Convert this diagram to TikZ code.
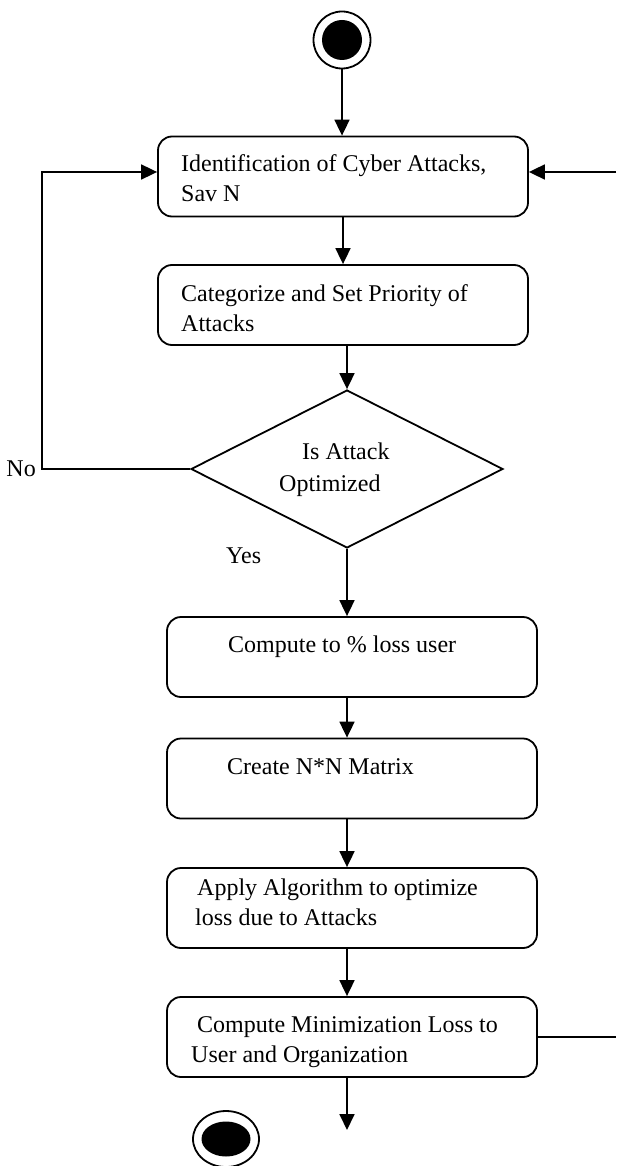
\documentclass[tikz,border=0pt]{standalone}
\usepackage{fontspec}
\setmainfont{Liberation Serif}
\usepackage{tikz}
\usetikzlibrary{arrows.meta,shapes.geometric,positioning,calc}
\tikzstyle{arrow} = [line width=1.8pt,-{Triangle[length=16pt,width=15pt]}]
\tikzstyle{line} = [line width=1.8pt]
\tikzstyle{stepbox} = [draw, line width=1.8pt, rounded corners=14pt, minimum width=370pt, minimum height=80pt, inner sep=0pt]
\tikzstyle{decision} = [draw, diamond, line width=1.8pt, minimum width=312pt, minimum height=158pt, inner sep=0pt]
\tikzstyle{txt} = [font=\fontsize{24}{30}\selectfont, inner sep=0pt, anchor=base west]

\begin{document}
\begin{tikzpicture}[x=1pt, y=-1pt]
    \useasboundingbox (0,0) rectangle (616,1166);

    % Start and end
    \node[circle, draw, line width=1.8pt, minimum size=57pt, inner sep=0pt] (start) at (342,40) {};
    \fill (start) circle (20pt);
    \node[draw, ellipse, line width=1.8pt, minimum width=66pt, minimum height=56pt, inner sep=0pt] (stop) at (226,1139) {};
    \fill (stop) ellipse (24.5pt and 17.5pt);

    % Boxes
    \node[stepbox] (ident) at (343,176.5) {};
    \node[stepbox] (categ) at (343,305) {};
    \node[decision] (optim) at (347,469) {};
    \node[stepbox] (comp) at (352,657) {};
    \node[stepbox] (matrix) at (352,778.5) {};
    \node[stepbox] (algo) at (352,908) {};
    \node[stepbox] (minim) at (352,1037) {};

    % Texts
    \node[txt] (identA) at (181,172) {Identification of Cyber Attacks,};
    \node[txt] (identB) at (181,202) {Sav N};
    \node[txt] (categA) at (181,301) {Categorize and Set Priority of};
    \node[txt] (categB) at (181,331) {Attacks};
    \node[txt] (optimA) at (302,459) {Is Attack};
    \node[txt] (optimB) at (279,491) {Optimized};
    \node[txt] (compA) at (228,652) {Compute to \% loss user};
    \node[txt] (matrixA) at (227,774) {Create N*N Matrix};
    \node[txt] (algoA) at (197,895) {Apply Algorithm to optimize};
    \node[txt] (algoB) at (195,925) {loss due to Attacks};
    \node[txt] (minimA) at (197,1032) {Compute Minimization Loss to};
    \node[txt] (minimB) at (191,1062) {User and Organization};
    \node[txt, anchor=base east] (no) at (36,476) {No};
    \node[txt] (yes) at (226,563) {Yes};

    % Flow
    \draw[arrow] (start.south) -- (start.south |- ident.north);
    \draw[arrow] (ident.south) -- (categ.north);
    \draw[arrow] (optim.north |- categ.south) -- (optim.north);
    \draw[arrow] (optim.south) -- (optim.south |- comp.north);
    \draw[arrow] (optim.south |- comp.south) -- (optim.south |- matrix.north);
    \draw[arrow] (optim.south |- matrix.south) -- (optim.south |- algo.north);
    \draw[arrow] (optim.south |- algo.south) -- (optim.south |- minim.north);
    \coordinate (exit) at (347,1130);
    \draw[arrow] (optim.south |- minim.south) -- (exit);

    % Loops
    \coordinate (loopL) at (42,172);
    \draw[arrow] (optim.west) -| (loopL) -- (loopL -| ident.west);
    \coordinate (loopR) at (616,172);
    \draw[arrow] (loopR) -- (loopR -| ident.east);
    \coordinate (outR) at (616,1037);
    \draw[line] (minim.east) -- (outR);
\end{tikzpicture}
\end{document}
